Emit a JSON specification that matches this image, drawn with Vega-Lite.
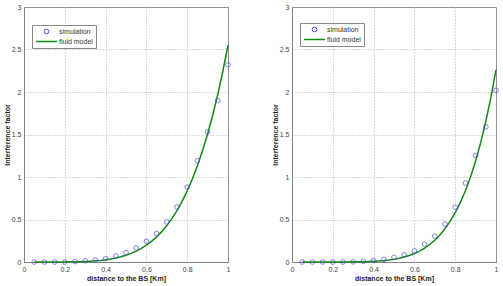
{
  "$schema": "https://vega.github.io/schema/vega-lite/v6.json",
  "background": "white",
  "padding": {"left": 2, "top": 2, "right": 0, "bottom": 2},
  "spacing": 64,
  "bounds": "flush",
  "config": {
    "font": "Liberation Sans",
    "view": {"stroke": "#808080", "strokeWidth": 1},
    "axis": {
      "domainColor": "#808080",
      "gridColor": "#b4b4b4",
      "gridDash": [1, 2],
      "gridWidth": 1,
      "labelFontSize": 7,
      "labelColor": "#444444",
      "labelPadding": 3,
      "labelFlush": false,
      "labelOverlap": false,
      "labelBound": false,
      "titleFontSize": 7,
      "titleFontWeight": "bold",
      "titleColor": "#222222",
      "ticks": false
    },
    "legend": {
      "orient": "none",
      "title": null,
      "padding": 3,
      "strokeColor": "#888888",
      "fillColor": "white",
      "labelFontSize": 7,
      "labelColor": "#333333",
      "symbolOffset": 8,
      "labelOffset": 9,
      "rowPadding": 1
    }
  },
  "datasets": {
    "simLeft": [
      {"distance": 0.05, "factor": 0, "series": "simulation"},
      {"distance": 0.1, "factor": 0, "series": "simulation"},
      {"distance": 0.15, "factor": 0, "series": "simulation"},
      {"distance": 0.2, "factor": 0, "series": "simulation"},
      {"distance": 0.25, "factor": 0.005, "series": "simulation"},
      {"distance": 0.3, "factor": 0.015, "series": "simulation"},
      {"distance": 0.35, "factor": 0.025, "series": "simulation"},
      {"distance": 0.4, "factor": 0.04, "series": "simulation"},
      {"distance": 0.45, "factor": 0.07, "series": "simulation"},
      {"distance": 0.5, "factor": 0.11, "series": "simulation"},
      {"distance": 0.55, "factor": 0.165, "series": "simulation"},
      {"distance": 0.6, "factor": 0.243, "series": "simulation"},
      {"distance": 0.65, "factor": 0.335, "series": "simulation"},
      {"distance": 0.7, "factor": 0.472, "series": "simulation"},
      {"distance": 0.75, "factor": 0.647, "series": "simulation"},
      {"distance": 0.8, "factor": 0.88, "series": "simulation"},
      {"distance": 0.85, "factor": 1.19, "series": "simulation"},
      {"distance": 0.9, "factor": 1.53, "series": "simulation"},
      {"distance": 0.95, "factor": 1.9, "series": "simulation"},
      {"distance": 1.0, "factor": 2.32, "series": "simulation"}
    ],
    "fluidLeft": [
      {"distance": 0.05, "factor": 0, "series": "fluid model"},
      {"distance": 0.075, "factor": 0, "series": "fluid model"},
      {"distance": 0.1, "factor": 0, "series": "fluid model"},
      {"distance": 0.125, "factor": 0.0001, "series": "fluid model"},
      {"distance": 0.15, "factor": 0.0002, "series": "fluid model"},
      {"distance": 0.175, "factor": 0.0004, "series": "fluid model"},
      {"distance": 0.2, "factor": 0.0008, "series": "fluid model"},
      {"distance": 0.225, "factor": 0.0015, "series": "fluid model"},
      {"distance": 0.25, "factor": 0.0025, "series": "fluid model"},
      {"distance": 0.275, "factor": 0.004, "series": "fluid model"},
      {"distance": 0.3, "factor": 0.0062, "series": "fluid model"},
      {"distance": 0.325, "factor": 0.0093, "series": "fluid model"},
      {"distance": 0.35, "factor": 0.0134, "series": "fluid model"},
      {"distance": 0.375, "factor": 0.0189, "series": "fluid model"},
      {"distance": 0.4, "factor": 0.0261, "series": "fluid model"},
      {"distance": 0.425, "factor": 0.0354, "series": "fluid model"},
      {"distance": 0.45, "factor": 0.047, "series": "fluid model"},
      {"distance": 0.475, "factor": 0.0617, "series": "fluid model"},
      {"distance": 0.5, "factor": 0.0797, "series": "fluid model"},
      {"distance": 0.525, "factor": 0.1017, "series": "fluid model"},
      {"distance": 0.55, "factor": 0.1283, "series": "fluid model"},
      {"distance": 0.575, "factor": 0.1605, "series": "fluid model"},
      {"distance": 0.6, "factor": 0.1983, "series": "fluid model"},
      {"distance": 0.625, "factor": 0.2432, "series": "fluid model"},
      {"distance": 0.65, "factor": 0.2959, "series": "fluid model"},
      {"distance": 0.675, "factor": 0.3573, "series": "fluid model"},
      {"distance": 0.7, "factor": 0.4286, "series": "fluid model"},
      {"distance": 0.725, "factor": 0.5103, "series": "fluid model"},
      {"distance": 0.75, "factor": 0.6051, "series": "fluid model"},
      {"distance": 0.775, "factor": 0.7135, "series": "fluid model"},
      {"distance": 0.8, "factor": 0.8356, "series": "fluid model"},
      {"distance": 0.825, "factor": 0.9748, "series": "fluid model"},
      {"distance": 0.85, "factor": 1.1315, "series": "fluid model"},
      {"distance": 0.875, "factor": 1.3079, "series": "fluid model"},
      {"distance": 0.9, "factor": 1.5057, "series": "fluid model"},
      {"distance": 0.925, "factor": 1.7268, "series": "fluid model"},
      {"distance": 0.95, "factor": 1.9731, "series": "fluid model"},
      {"distance": 0.975, "factor": 2.2468, "series": "fluid model"},
      {"distance": 1.0, "factor": 2.55, "series": "fluid model"}
    ],
    "simRight": [
      {"distance": 0.05, "factor": 0, "series": "simulation"},
      {"distance": 0.1, "factor": 0, "series": "simulation"},
      {"distance": 0.15, "factor": 0, "series": "simulation"},
      {"distance": 0.2, "factor": 0, "series": "simulation"},
      {"distance": 0.25, "factor": 0, "series": "simulation"},
      {"distance": 0.3, "factor": 0.002, "series": "simulation"},
      {"distance": 0.35, "factor": 0.008, "series": "simulation"},
      {"distance": 0.4, "factor": 0.018, "series": "simulation"},
      {"distance": 0.45, "factor": 0.03, "series": "simulation"},
      {"distance": 0.5, "factor": 0.055, "series": "simulation"},
      {"distance": 0.55, "factor": 0.085, "series": "simulation"},
      {"distance": 0.6, "factor": 0.13, "series": "simulation"},
      {"distance": 0.65, "factor": 0.21, "series": "simulation"},
      {"distance": 0.7, "factor": 0.305, "series": "simulation"},
      {"distance": 0.75, "factor": 0.445, "series": "simulation"},
      {"distance": 0.8, "factor": 0.645, "series": "simulation"},
      {"distance": 0.85, "factor": 0.93, "series": "simulation"},
      {"distance": 0.9, "factor": 1.255, "series": "simulation"},
      {"distance": 0.95, "factor": 1.59, "series": "simulation"},
      {"distance": 1.0, "factor": 2.02, "series": "simulation"}
    ],
    "fluidRight": [
      {"distance": 0.05, "factor": 0, "series": "fluid model"},
      {"distance": 0.1, "factor": 0, "series": "fluid model"},
      {"distance": 0.15, "factor": 0, "series": "fluid model"},
      {"distance": 0.2, "factor": 0.0001, "series": "fluid model"},
      {"distance": 0.25, "factor": 0.0005, "series": "fluid model"},
      {"distance": 0.3, "factor": 0.0015, "series": "fluid model"},
      {"distance": 0.325, "factor": 0.0024, "series": "fluid model"},
      {"distance": 0.35, "factor": 0.0037, "series": "fluid model"},
      {"distance": 0.375, "factor": 0.0057, "series": "fluid model"},
      {"distance": 0.4, "factor": 0.0084, "series": "fluid model"},
      {"distance": 0.425, "factor": 0.0122, "series": "fluid model"},
      {"distance": 0.45, "factor": 0.0173, "series": "fluid model"},
      {"distance": 0.475, "factor": 0.0241, "series": "fluid model"},
      {"distance": 0.5, "factor": 0.033, "series": "fluid model"},
      {"distance": 0.525, "factor": 0.0443, "series": "fluid model"},
      {"distance": 0.55, "factor": 0.0589, "series": "fluid model"},
      {"distance": 0.575, "factor": 0.0772, "series": "fluid model"},
      {"distance": 0.6, "factor": 0.1002, "series": "fluid model"},
      {"distance": 0.625, "factor": 0.1285, "series": "fluid model"},
      {"distance": 0.65, "factor": 0.1632, "series": "fluid model"},
      {"distance": 0.675, "factor": 0.2056, "series": "fluid model"},
      {"distance": 0.7, "factor": 0.2565, "series": "fluid model"},
      {"distance": 0.725, "factor": 0.3178, "series": "fluid model"},
      {"distance": 0.75, "factor": 0.3908, "series": "fluid model"},
      {"distance": 0.775, "factor": 0.4774, "series": "fluid model"},
      {"distance": 0.8, "factor": 0.5795, "series": "fluid model"},
      {"distance": 0.825, "factor": 0.699, "series": "fluid model"},
      {"distance": 0.85, "factor": 0.8387, "series": "fluid model"},
      {"distance": 0.875, "factor": 1.001, "series": "fluid model"},
      {"distance": 0.9, "factor": 1.1885, "series": "fluid model"},
      {"distance": 0.925, "factor": 1.4046, "series": "fluid model"},
      {"distance": 0.95, "factor": 1.6528, "series": "fluid model"},
      {"distance": 0.975, "factor": 1.9366, "series": "fluid model"},
      {"distance": 1.0, "factor": 2.26, "series": "fluid model"}
    ]
  },
  "resolve": {"scale": {"color": "independent"}, "legend": {"color": "independent"}},
  "hconcat": [
    {
      "width": 204,
      "height": 255,
      "encoding": {
        "x": {"field": "distance", "type": "quantitative", "title": "distance to the BS [Km]",
              "scale": {"domain": [0, 1], "nice": false},
              "axis": {"values": [0, 0.2, 0.4, 0.6, 0.8, 1], "format": "~g", "titlePadding": 2}},
        "y": {"field": "factor", "type": "quantitative", "title": "Interference factor",
              "scale": {"domain": [0, 3], "nice": false},
              "axis": {"values": [0, 0.5, 1, 1.5, 2, 2.5, 3], "format": "~g", "titlePadding": 1}},
        "color": {"field": "series", "type": "nominal",
                  "scale": {"domain": ["simulation", "fluid model"], "range": ["#4c4ce6", "#138a13"]},
                  "legend": {"legendX": 8, "legendY": 18,
                             "encode": {"symbols": {"update": {
                               "shape": {"signal": "datum.value === 'fluid model' ? 'stroke' : 'circle'"},
                               "size": {"signal": "datum.value === 'fluid model' ? 441 : 22"},
                               "fill": {"value": "transparent"},
                               "stroke": {"signal": "datum.value === 'fluid model' ? '#138a13' : '#4c4ce6'"},
                               "strokeWidth": {"signal": "datum.value === 'fluid model' ? 1.5 : 1"}}}}}}
      },
      "layer": [
        {"data": {"name": "fluidLeft"}, "mark": {"type": "line", "strokeWidth": 1.5}},
        {"data": {"name": "simLeft"}, "mark": {"type": "point", "shape": "circle", "filled": false, "size": 22, "strokeWidth": 1}}
      ]
    },
    {
      "width": 204,
      "height": 255,
      "encoding": {
        "x": {"field": "distance", "type": "quantitative", "title": "distance to the BS [Km]",
              "scale": {"domain": [0, 1], "nice": false},
              "axis": {"values": [0, 0.2, 0.4, 0.6, 0.8, 1], "format": "~g", "titlePadding": 2}},
        "y": {"field": "factor", "type": "quantitative", "title": "Interference factor",
              "scale": {"domain": [0, 3], "nice": false},
              "axis": {"values": [0, 0.5, 1, 1.5, 2, 2.5, 3], "format": "~g", "titlePadding": 1}},
        "color": {"field": "series", "type": "nominal",
                  "scale": {"domain": ["simulation", "fluid model"], "range": ["#4c4ce6", "#138a13"]},
                  "legend": {"legendX": 8, "legendY": 16,
                             "encode": {"symbols": {"update": {
                               "shape": {"signal": "datum.value === 'fluid model' ? 'stroke' : 'circle'"},
                               "size": {"signal": "datum.value === 'fluid model' ? 441 : 22"},
                               "fill": {"value": "transparent"},
                               "stroke": {"signal": "datum.value === 'fluid model' ? '#138a13' : '#4c4ce6'"},
                               "strokeWidth": {"signal": "datum.value === 'fluid model' ? 1.5 : 1"}}}}}}
      },
      "layer": [
        {"data": {"name": "fluidRight"}, "mark": {"type": "line", "strokeWidth": 1.5}},
        {"data": {"name": "simRight"}, "mark": {"type": "point", "shape": "circle", "filled": false, "size": 22, "strokeWidth": 1}}
      ]
    }
  ]
}
